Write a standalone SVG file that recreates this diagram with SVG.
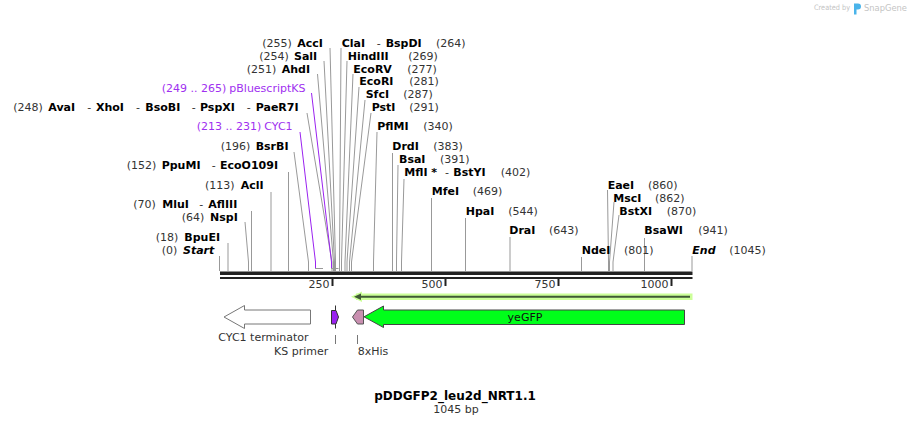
<svg xmlns="http://www.w3.org/2000/svg" width="912" height="425" viewBox="0 0 912 425">
<style>
text{font-family:"DejaVu Sans",Verdana,sans-serif;font-size:11px;fill:#333}
.b{font-weight:bold;fill:#000}
.i{font-style:italic}
.p{fill:#a030f0}
.c line,.c path{stroke:#999;stroke-width:1;fill:none}
.c .pp{stroke:#9a22f0}
.bar{stroke:#9a22f0;stroke-width:2}
.t{font-size:12px;font-weight:bold;fill:#000}
</style>
<rect width="912" height="425" fill="#fff"/>
<g id="watermark">
<text x="814" y="10" textLength="36" lengthAdjust="spacingAndGlyphs" style="font-size:7.5px;fill:#c4c4c4">Created by</text>
<path d="M854,3.5 h4 q3,0 3,3 q0,3 -3,3 h-1.5 v5 h-2.5 z" fill="#4ab4ea"/>
<text x="864" y="11" textLength="43" lengthAdjust="spacingAndGlyphs" style="font-size:9.5px;fill:#c4c4c4">SnapGene</text>
</g>
<g id="connectors" class="c">
<path d="M219.5,256V271"/>
<path d="M228,243V271"/>
<path d="M245,222L248.5,262V271"/>
<path d="M251.5,211V271"/>
<path d="M271,192V271"/>
<path d="M288.5,172V271"/>
<path d="M294,152L308.5,262V271"/>
<path class="pp" d="M300,132L315.5,262V268"/>
<path d="M307,113L332,262V271"/>
<path class="pp" d="M311.5,93L331.5,262V268"/>
<path d="M317.5,74L333.5,262V271"/>
<path d="M324,61L334.5,262V271"/>
<path d="M330,48L335.5,262V271"/>
<path d="M341,48L339.5,262V271"/>
<path d="M347,61L341.5,262V271"/>
<path d="M353,74L345,262V271"/>
<path d="M359,87L347,262V271"/>
<path d="M365,100L349.5,262V271"/>
<path d="M371,113L351.5,262V271"/>
<path d="M377,132L373.5,262V271"/>
<path d="M392.5,153V271"/>
<path d="M398,165L396.5,262V271"/>
<path d="M404,179L401.5,262V271"/>
<path d="M431.5,198V271"/>
<path d="M465.5,218V271"/>
<path d="M510,237V271"/>
<path d="M581.5,257V271"/>
<path d="M607.5,190L608.5,262V271"/>
<path d="M614,202L609.5,262V271"/>
<path d="M619,215L613,262V271"/>
<path d="M644.5,238V271"/>
<path d="M692,256V271"/>
<line class="bar" x1="315" y1="268.5" x2="323" y2="268.5"/>
<line class="bar" x1="331" y1="268.5" x2="338.5" y2="268.5"/>
<line x1="335.5" y1="335" x2="335.5" y2="344" style="stroke:#777"/>
<line x1="357.5" y1="335" x2="357.5" y2="344" style="stroke:#777"/>
</g>
<g id="backbone">
<rect x="220" y="271.5" width="472.5" height="3.5" fill="#222"/>
<rect x="220" y="277" width="472.5" height="2" fill="#222"/>
<rect x="331.5" y="279" width="2" height="7" fill="#222"/>
<rect x="444.5" y="279" width="2" height="7" fill="#222"/>
<rect x="557.5" y="279" width="2" height="7" fill="#222"/>
<rect x="670.5" y="279" width="2" height="7" fill="#222"/>
<text x="329.5" y="288" text-anchor="end">250</text>
<text x="442.5" y="288" text-anchor="end">500</text>
<text x="555.5" y="288" text-anchor="end">750</text>
<text x="668.5" y="288" text-anchor="end">1000</text>
</g>
<g id="site-start"><text y="253.5"><tspan x="161.7">(0)</tspan><tspan x="183" class="b i">Start</tspan></text></g>
<g id="site-BpuEI"><text y="241"><tspan x="155.7">(18)</tspan><tspan x="184.3" class="b">BpuEI</tspan></text></g>
<g id="site-NspI"><text y="221"><tspan x="181.7">(64)</tspan><tspan x="210" class="b">NspI</tspan></text></g>
<g id="site-MluI"><text y="208"><tspan x="133.3">(70)</tspan><tspan x="162.3" class="b">MluI</tspan><tspan x="199.3">-</tspan><tspan x="208.3" class="b">AflIII</tspan></text></g>
<g id="site-AclI"><text y="188.5"><tspan x="205">(113)</tspan><tspan x="240.7" class="b">AclI</tspan></text></g>
<g id="site-PpuMI"><text y="169"><tspan x="126.7">(152)</tspan><tspan x="161.7" class="b">PpuMI</tspan><tspan x="211.7">-</tspan><tspan x="220" class="b">EcoO109I</tspan></text></g>
<g id="site-BsrBI"><text y="149.5"><tspan x="220.7">(196)</tspan><tspan x="255.7" class="b">BsrBI</tspan></text></g>
<g id="feat-CYC1-label"><text y="130" class="p"><tspan x="196.7">(213 .. 231)</tspan><tspan x="264.3">CYC1</tspan></text></g>
<g id="site-AvaI"><text y="111"><tspan x="13.3">(248)</tspan><tspan x="48.3" class="b">AvaI</tspan><tspan x="87.3">-</tspan><tspan x="96" class="b">XhoI</tspan><tspan x="136">-</tspan><tspan x="145.3" class="b">BsoBI</tspan><tspan x="191.7">-</tspan><tspan x="200" class="b">PspXI</tspan><tspan x="246.7">-</tspan><tspan x="255.7" class="b">PaeR7I</tspan></text></g>
<g id="feat-pBluescriptKS-label"><text y="91.5" class="p"><tspan x="161.7">(249 .. 265)</tspan><tspan x="229.3">pBluescriptKS</tspan></text></g>
<g id="site-AhdI"><text y="72.5"><tspan x="246.7">(251)</tspan><tspan x="281.7" class="b">AhdI</tspan></text></g>
<g id="site-SalI"><text y="59.5"><tspan x="259.3">(254)</tspan><tspan x="294" class="b">SalI</tspan></text></g>
<g id="site-AccI"><text y="46.5"><tspan x="262.3">(255)</tspan><tspan x="297.3" class="b">AccI</tspan></text></g>
<g id="site-ClaI"><text y="46.5"><tspan x="341.7" class="b">ClaI</tspan><tspan x="376.7">-</tspan><tspan x="385.7" class="b">BspDI</tspan><tspan x="436">(264)</tspan></text></g>
<g id="site-HindIII"><text y="59.5"><tspan x="347.7" class="b">HindIII</tspan><tspan x="408.3">(269)</tspan></text></g>
<g id="site-EcoRV"><text y="72.5"><tspan x="353.3" class="b">EcoRV</tspan><tspan x="407.3">(277)</tspan></text></g>
<g id="site-EcoRI"><text y="85"><tspan x="359.3" class="b">EcoRI</tspan><tspan x="409.3">(281)</tspan></text></g>
<g id="site-SfcI"><text y="98"><tspan x="365.7" class="b">SfcI</tspan><tspan x="403.3">(287)</tspan></text></g>
<g id="site-PstI"><text y="111"><tspan x="371.7" class="b">PstI</tspan><tspan x="409.3">(291)</tspan></text></g>
<g id="site-PflMI"><text y="130"><tspan x="377.3" class="b">PflMI</tspan><tspan x="423.3">(340)</tspan></text></g>
<g id="site-DrdI"><text y="149.5"><tspan x="392.3" class="b">DrdI</tspan><tspan x="433.3">(383)</tspan></text></g>
<g id="site-BsaI"><text y="162.5"><tspan x="399" class="b">BsaI</tspan><tspan x="440">(391)</tspan></text></g>
<g id="site-MflI"><text y="176"><tspan x="404.3" class="b">MflI *</tspan><tspan x="445">-</tspan><tspan x="453.3" class="b">BstYI</tspan><tspan x="500.7">(402)</tspan></text></g>
<g id="site-MfeI"><text y="195"><tspan x="431.7" class="b">MfeI</tspan><tspan x="472.7">(469)</tspan></text></g>
<g id="site-HpaI"><text y="215"><tspan x="465.7" class="b">HpaI</tspan><tspan x="508.3">(544)</tspan></text></g>
<g id="site-DraI"><text y="234"><tspan x="509.3" class="b">DraI</tspan><tspan x="549">(643)</tspan></text></g>
<g id="site-NdeI"><text y="253.5"><tspan x="581.7" class="b">NdeI</tspan><tspan x="624">(801)</tspan></text></g>
<g id="site-EaeI"><text y="188.5"><tspan x="607.7" class="b">EaeI</tspan><tspan x="648">(860)</tspan></text></g>
<g id="site-MscI"><text y="201.5"><tspan x="613.3" class="b">MscI</tspan><tspan x="655">(862)</tspan></text></g>
<g id="site-BstXI"><text y="215"><tspan x="619.3" class="b">BstXI</tspan><tspan x="666.7">(870)</tspan></text></g>
<g id="site-BsaWI"><text y="234"><tspan x="644.3" class="b">BsaWI</tspan><tspan x="698.3">(941)</tspan></text></g>
<g id="site-end"><text y="253.5"><tspan x="692.3" class="b i">End</tspan><tspan x="729.3">(1045)</tspan></text></g>
<g id="orf">
<rect x="356" y="293.5" width="336.5" height="6.5" fill="#ccff99"/>
<polygon points="351,296.8 362,291.5 362,302" fill="#ccff99"/>
<line x1="358" y1="296.8" x2="690" y2="296.8" stroke="#3f5a35" stroke-width="2"/>
<polygon points="354,296.8 361,293.5 361,300" fill="#3f5a35"/>
</g>
<g id="feat-CYC1-terminator">
<polygon points="224,317 244.5,305.5 244.5,310 310.5,310 310.5,324 244.5,324 244.5,328.5" fill="#fff" stroke="#777"/>
<text x="218.3" y="341">CYC1 terminator</text>
</g>
<g id="feat-KS-primer">
<line x1="335.5" y1="305.5" x2="335.5" y2="328.5" stroke="#333"/>
<polygon points="331.5,310.5 336,310.5 338.5,317 336,324 331.5,324" fill="#9a22f0" stroke="#333"/>
<text x="274" y="355">KS primer</text>
</g>
<g id="feat-8xHis">
<polygon points="352.5,317 357.5,310 363.5,310 363.5,324 357.5,324" fill="#c98fb0" stroke="#555"/>
<text x="357.7" y="355">8xHis</text>
</g>
<g id="feat-yeGFP">
<polygon points="364,316.8 383.5,306 383.5,310 684.5,310 684.5,324.5 383.5,324.5 383.5,327.5" fill="#00ff1a" stroke="#444"/>
<text x="525" y="321" text-anchor="middle" style="fill:#111">yeGFP</text>
</g>
<g id="title">
<text x="455" y="400" text-anchor="middle" class="t">pDDGFP2_leu2d_NRT1.1</text>
<text x="456" y="412.5" text-anchor="middle">1045 bp</text>
</g>
</svg>
